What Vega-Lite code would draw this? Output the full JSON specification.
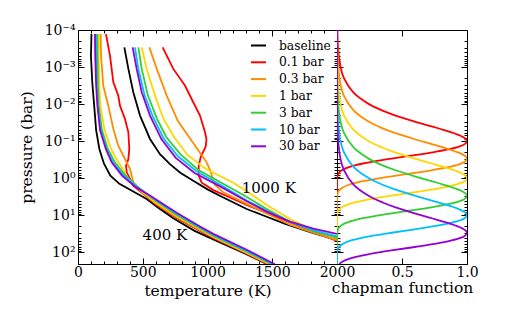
{
"$schema":"https://vega.github.io/schema/vega-lite/v6.json",
"padding":{"left":18,"top":22,"right":5,"bottom":5},
"background":"white",
"config":{"font":"DejaVu Serif","view":{"stroke":"black","strokeWidth":1},
 "axis":{"domain":false,"grid":false,"tickColor":"black","labelColor":"black","titleColor":"black","labelFontSize":14,"titleFontSize":15.5,"titleFontWeight":"normal","labelFlush":false,"labelOverlap":false,"tickWidth":1},
 "legend":{"labelFontSize":12.3,"labelColor":"black"}},
"datasets":{
"temp":[
{"s":"baseline","g":"lo","T":104,"p":0.000129},{"s":"baseline","g":"lo","T":100,"p":0.000501},{"s":"baseline","g":"lo","T":110,"p":0.00251},{"s":"baseline","g":"lo","T":125,"p":0.011},{"s":"baseline","g":"lo","T":140,"p":0.0501},{"s":"baseline","g":"lo","T":165,"p":0.162},{"s":"baseline","g":"lo","T":200,"p":0.398},{"s":"baseline","g":"lo","T":250,"p":0.851},{"s":"baseline","g":"lo","T":320,"p":1.413},{"s":"baseline","g":"lo","T":427,"p":2.291},{"s":"baseline","g":"lo","T":530,"p":3.631},{"s":"baseline","g":"lo","T":633,"p":6.761},{"s":"baseline","g":"lo","T":736,"p":12.02},{"s":"baseline","g":"lo","T":900,"p":26.3},{"s":"baseline","g":"lo","T":1045,"p":44.67},{"s":"baseline","g":"lo","T":1300,"p":112.2},{"s":"baseline","g":"lo","T":1480,"p":223.9},
{"s":"baseline","g":"hi","T":358,"p":0.000295},{"s":"baseline","g":"hi","T":389,"p":0.001122},{"s":"baseline","g":"hi","T":427,"p":0.00479},{"s":"baseline","g":"hi","T":479,"p":0.0204},{"s":"baseline","g":"hi","T":556,"p":0.0871},{"s":"baseline","g":"hi","T":633,"p":0.224},{"s":"baseline","g":"hi","T":710,"p":0.417},{"s":"baseline","g":"hi","T":790,"p":0.708},{"s":"baseline","g":"hi","T":890,"p":1.175},{"s":"baseline","g":"hi","T":1000,"p":1.995},{"s":"baseline","g":"hi","T":1122,"p":3.311},{"s":"baseline","g":"hi","T":1303,"p":6.761},{"s":"baseline","g":"hi","T":1457,"p":10.96},{"s":"baseline","g":"hi","T":1600,"p":16.98},{"s":"baseline","g":"hi","T":1800,"p":28.84},{"s":"baseline","g":"hi","T":2000,"p":46.77},
{"s":"0.1 bar","g":"lo","T":216,"p":0.000129},{"s":"0.1 bar","g":"lo","T":247,"p":0.00049},{"s":"0.1 bar","g":"lo","T":273,"p":0.00257},{"s":"0.1 bar","g":"lo","T":311,"p":0.00589},{"s":"0.1 bar","g":"lo","T":324,"p":0.011},{"s":"0.1 bar","g":"lo","T":363,"p":0.0251},{"s":"0.1 bar","g":"lo","T":389,"p":0.0575},{"s":"0.1 bar","g":"lo","T":396,"p":0.162},{"s":"0.1 bar","g":"lo","T":389,"p":0.302},{"s":"0.1 bar","g":"lo","T":371,"p":0.457},{"s":"0.1 bar","g":"lo","T":376,"p":0.692},{"s":"0.1 bar","g":"lo","T":402,"p":1.047},{"s":"0.1 bar","g":"lo","T":427,"p":1.585},{"s":"0.1 bar","g":"lo","T":504,"p":2.63},{"s":"0.1 bar","g":"lo","T":595,"p":4.9},{"s":"0.1 bar","g":"lo","T":755,"p":11.5},{"s":"0.1 bar","g":"lo","T":935,"p":25.5},{"s":"0.1 bar","g":"lo","T":1040,"p":40.5},{"s":"0.1 bar","g":"lo","T":1295,"p":106},{"s":"0.1 bar","g":"lo","T":1470,"p":214},
{"s":"0.1 bar","g":"hi","T":654,"p":0.000295},{"s":"0.1 bar","g":"hi","T":736,"p":0.001122},{"s":"0.1 bar","g":"hi","T":826,"p":0.00316},{"s":"0.1 bar","g":"hi","T":890,"p":0.00891},{"s":"0.1 bar","g":"hi","T":942,"p":0.0204},{"s":"0.1 bar","g":"hi","T":981,"p":0.0575},{"s":"0.1 bar","g":"hi","T":992,"p":0.0891},{"s":"0.1 bar","g":"hi","T":986,"p":0.141},{"s":"0.1 bar","g":"hi","T":950,"p":0.251},{"s":"0.1 bar","g":"hi","T":932,"p":0.457},{"s":"0.1 bar","g":"hi","T":932,"p":0.851},{"s":"0.1 bar","g":"hi","T":955,"p":1.318},{"s":"0.1 bar","g":"hi","T":1045,"p":2.089},{"s":"0.1 bar","g":"hi","T":1148,"p":3.02},{"s":"0.1 bar","g":"hi","T":1303,"p":5.248},{"s":"0.1 bar","g":"hi","T":1534,"p":11.22},{"s":"0.1 bar","g":"hi","T":1792,"p":25.12},{"s":"0.1 bar","g":"hi","T":2000,"p":48.98},
{"s":"0.3 bar","g":"lo","T":175,"p":0.000129},{"s":"0.3 bar","g":"lo","T":178,"p":0.000501},{"s":"0.3 bar","g":"lo","T":195,"p":0.00316},{"s":"0.3 bar","g":"lo","T":234,"p":0.011},{"s":"0.3 bar","g":"lo","T":273,"p":0.0468},{"s":"0.3 bar","g":"lo","T":311,"p":0.132},{"s":"0.3 bar","g":"lo","T":363,"p":0.302},{"s":"0.3 bar","g":"lo","T":402,"p":0.562},{"s":"0.3 bar","g":"lo","T":415,"p":0.851},{"s":"0.3 bar","g":"lo","T":427,"p":1.288},{"s":"0.3 bar","g":"lo","T":500,"p":2.512},{"s":"0.3 bar","g":"lo","T":600,"p":4.786},{"s":"0.3 bar","g":"lo","T":762,"p":11.22},{"s":"0.3 bar","g":"lo","T":942,"p":25.12},{"s":"0.3 bar","g":"lo","T":1045,"p":39.81},{"s":"0.3 bar","g":"lo","T":1303,"p":104.7},{"s":"0.3 bar","g":"lo","T":1480,"p":213.8},
{"s":"0.3 bar","g":"hi","T":551,"p":0.000295},{"s":"0.3 bar","g":"hi","T":608,"p":0.001122},{"s":"0.3 bar","g":"hi","T":685,"p":0.00589},{"s":"0.3 bar","g":"hi","T":770,"p":0.0282},{"s":"0.3 bar","g":"hi","T":860,"p":0.0794},{"s":"0.3 bar","g":"hi","T":930,"p":0.178},{"s":"0.3 bar","g":"hi","T":990,"p":0.355},{"s":"0.3 bar","g":"hi","T":1025,"p":0.661},{"s":"0.3 bar","g":"hi","T":1042,"p":1.122},{"s":"0.3 bar","g":"hi","T":1058,"p":1.514},{"s":"0.3 bar","g":"hi","T":1122,"p":2.399},{"s":"0.3 bar","g":"hi","T":1303,"p":4.898},{"s":"0.3 bar","g":"hi","T":1457,"p":8.913},{"s":"0.3 bar","g":"hi","T":1637,"p":17.78},{"s":"0.3 bar","g":"hi","T":1817,"p":29.51},{"s":"0.3 bar","g":"hi","T":2000,"p":46.77},
{"s":"1 bar","g":"lo","T":162,"p":0.000129},{"s":"1 bar","g":"lo","T":160,"p":0.000501},{"s":"1 bar","g":"lo","T":165,"p":0.00316},{"s":"1 bar","g":"lo","T":172,"p":0.011},{"s":"1 bar","g":"lo","T":205,"p":0.0501},{"s":"1 bar","g":"lo","T":255,"p":0.162},{"s":"1 bar","g":"lo","T":300,"p":0.316},{"s":"1 bar","g":"lo","T":345,"p":0.562},{"s":"1 bar","g":"lo","T":390,"p":1.047},{"s":"1 bar","g":"lo","T":470,"p":1.905},{"s":"1 bar","g":"lo","T":580,"p":3.981},{"s":"1 bar","g":"lo","T":762,"p":10.47},{"s":"1 bar","g":"lo","T":942,"p":23.44},{"s":"1 bar","g":"lo","T":1045,"p":37.15},{"s":"1 bar","g":"lo","T":1303,"p":100},{"s":"1 bar","g":"lo","T":1490,"p":213.8},
{"s":"1 bar","g":"hi","T":492,"p":0.000295},{"s":"1 bar","g":"hi","T":530,"p":0.001122},{"s":"1 bar","g":"hi","T":595,"p":0.00589},{"s":"1 bar","g":"hi","T":660,"p":0.0251},{"s":"1 bar","g":"hi","T":745,"p":0.0794},{"s":"1 bar","g":"hi","T":840,"p":0.224},{"s":"1 bar","g":"hi","T":965,"p":0.501},{"s":"1 bar","g":"hi","T":1045,"p":0.708},{"s":"1 bar","g":"hi","T":1200,"p":1.318},{"s":"1 bar","g":"hi","T":1303,"p":2.239},{"s":"1 bar","g":"hi","T":1457,"p":5.248},{"s":"1 bar","g":"hi","T":1637,"p":12.59},{"s":"1 bar","g":"hi","T":1817,"p":25.12},{"s":"1 bar","g":"hi","T":2000,"p":41.69},
{"s":"3 bar","g":"lo","T":149,"p":0.000129},{"s":"3 bar","g":"lo","T":150,"p":0.000501},{"s":"3 bar","g":"lo","T":154,"p":0.00316},{"s":"3 bar","g":"lo","T":160,"p":0.011},{"s":"3 bar","g":"lo","T":185,"p":0.0501},{"s":"3 bar","g":"lo","T":230,"p":0.162},{"s":"3 bar","g":"lo","T":285,"p":0.372},{"s":"3 bar","g":"lo","T":355,"p":0.759},{"s":"3 bar","g":"lo","T":450,"p":1.585},{"s":"3 bar","g":"lo","T":575,"p":3.548},{"s":"3 bar","g":"lo","T":762,"p":9.772},{"s":"3 bar","g":"lo","T":942,"p":22.39},{"s":"3 bar","g":"lo","T":1045,"p":35.48},{"s":"3 bar","g":"lo","T":1303,"p":95.5},{"s":"3 bar","g":"lo","T":1495,"p":208.9},
{"s":"3 bar","g":"hi","T":466,"p":0.000295},{"s":"3 bar","g":"hi","T":492,"p":0.001122},{"s":"3 bar","g":"hi","T":540,"p":0.00589},{"s":"3 bar","g":"hi","T":610,"p":0.0251},{"s":"3 bar","g":"hi","T":680,"p":0.0759},{"s":"3 bar","g":"hi","T":790,"p":0.224},{"s":"3 bar","g":"hi","T":930,"p":0.603},{"s":"3 bar","g":"hi","T":1100,"p":1.288},{"s":"3 bar","g":"hi","T":1277,"p":2.818},{"s":"3 bar","g":"hi","T":1457,"p":6.761},{"s":"3 bar","g":"hi","T":1637,"p":14.79},{"s":"3 bar","g":"hi","T":1817,"p":26.3},{"s":"3 bar","g":"hi","T":2000,"p":39.81},
{"s":"10 bar","g":"lo","T":139,"p":0.000129},{"s":"10 bar","g":"lo","T":140,"p":0.000501},{"s":"10 bar","g":"lo","T":145,"p":0.00316},{"s":"10 bar","g":"lo","T":153,"p":0.011},{"s":"10 bar","g":"lo","T":175,"p":0.0501},{"s":"10 bar","g":"lo","T":220,"p":0.162},{"s":"10 bar","g":"lo","T":270,"p":0.372},{"s":"10 bar","g":"lo","T":345,"p":0.794},{"s":"10 bar","g":"lo","T":445,"p":1.585},{"s":"10 bar","g":"lo","T":570,"p":3.311},{"s":"10 bar","g":"lo","T":762,"p":9.12},{"s":"10 bar","g":"lo","T":942,"p":21.38},{"s":"10 bar","g":"lo","T":1045,"p":33.88},{"s":"10 bar","g":"lo","T":1303,"p":91.2},{"s":"10 bar","g":"lo","T":1505,"p":208.9},
{"s":"10 bar","g":"hi","T":440,"p":0.000295},{"s":"10 bar","g":"hi","T":466,"p":0.001122},{"s":"10 bar","g":"hi","T":515,"p":0.00589},{"s":"10 bar","g":"hi","T":575,"p":0.0204},{"s":"10 bar","g":"hi","T":660,"p":0.0832},{"s":"10 bar","g":"hi","T":770,"p":0.251},{"s":"10 bar","g":"hi","T":915,"p":0.646},{"s":"10 bar","g":"hi","T":1097,"p":1.479},{"s":"10 bar","g":"hi","T":1303,"p":3.981},{"s":"10 bar","g":"hi","T":1457,"p":7.586},{"s":"10 bar","g":"hi","T":1637,"p":15.14},{"s":"10 bar","g":"hi","T":1817,"p":25.12},{"s":"10 bar","g":"hi","T":2000,"p":37.15},
{"s":"30 bar","g":"lo","T":131,"p":0.000129},{"s":"30 bar","g":"lo","T":133,"p":0.000501},{"s":"30 bar","g":"lo","T":140,"p":0.00316},{"s":"30 bar","g":"lo","T":150,"p":0.011},{"s":"30 bar","g":"lo","T":170,"p":0.0501},{"s":"30 bar","g":"lo","T":215,"p":0.162},{"s":"30 bar","g":"lo","T":260,"p":0.372},{"s":"30 bar","g":"lo","T":340,"p":0.851},{"s":"30 bar","g":"lo","T":440,"p":1.66},{"s":"30 bar","g":"lo","T":570,"p":3.162},{"s":"30 bar","g":"lo","T":762,"p":8.511},{"s":"30 bar","g":"lo","T":942,"p":19.95},{"s":"30 bar","g":"lo","T":1045,"p":31.62},{"s":"30 bar","g":"lo","T":1303,"p":85.11},{"s":"30 bar","g":"lo","T":1520,"p":208.9},
{"s":"30 bar","g":"hi","T":422,"p":0.000295},{"s":"30 bar","g":"hi","T":453,"p":0.001122},{"s":"30 bar","g":"hi","T":492,"p":0.00479},{"s":"30 bar","g":"hi","T":556,"p":0.0204},{"s":"30 bar","g":"hi","T":645,"p":0.0891},{"s":"30 bar","g":"hi","T":755,"p":0.282},{"s":"30 bar","g":"hi","T":900,"p":0.724},{"s":"30 bar","g":"hi","T":1097,"p":1.66},{"s":"30 bar","g":"hi","T":1303,"p":4.169},{"s":"30 bar","g":"hi","T":1457,"p":7.943},{"s":"30 bar","g":"hi","T":1637,"p":14.79},{"s":"30 bar","g":"hi","T":1817,"p":22.91},{"s":"30 bar","g":"hi","T":2000,"p":31.62}
],
"chap":[
{"s":"baseline","p":0.0001,"f":0},{"s":"baseline","p":206,"f":0},
{"s":"0.1 bar","p":0.0001,"f":0.00272},{"s":"0.1 bar","p":0.0003,"f":0.00813},{"s":"0.1 bar","p":0.001,"f":0.0269},{"s":"0.1 bar","p":0.002,"f":0.0533},{"s":"0.1 bar","p":0.005,"f":0.129},{"s":"0.1 bar","p":0.01,"f":0.246},{"s":"0.1 bar","p":0.015,"f":0.351},{"s":"0.1 bar","p":0.02,"f":0.445},{"s":"0.1 bar","p":0.03,"f":0.604},{"s":"0.1 bar","p":0.04,"f":0.729},{"s":"0.1 bar","p":0.05,"f":0.824},{"s":"0.1 bar","p":0.07,"f":0.945},{"s":"0.1 bar","p":0.085,"f":0.988},{"s":"0.1 bar","p":0.1,"f":1},{"s":"0.1 bar","p":0.12,"f":0.982},{"s":"0.1 bar","p":0.14,"f":0.938},{"s":"0.1 bar","p":0.17,"f":0.844},{"s":"0.1 bar","p":0.2,"f":0.736},{"s":"0.1 bar","p":0.25,"f":0.558},{"s":"0.1 bar","p":0.3,"f":0.406},{"s":"0.1 bar","p":0.35,"f":0.287},{"s":"0.1 bar","p":0.4,"f":0.199},{"s":"0.1 bar","p":0.45,"f":0.136},{"s":"0.1 bar","p":0.5,"f":0.0916},{"s":"0.1 bar","p":0.6,"f":0.0404},{"s":"0.1 bar","p":0.7,"f":0.0174},{"s":"0.1 bar","p":0.8,"f":0.0073},{"s":"0.1 bar","p":1,"f":0.0012},{"s":"0.1 bar","p":1.5,"f":0},{"s":"0.1 bar","p":206,"f":0},
{"s":"0.3 bar","p":0.0001,"f":0.0009},{"s":"0.3 bar","p":0.0003,"f":0.00272},{"s":"0.3 bar","p":0.0009,"f":0.00813},{"s":"0.3 bar","p":0.003,"f":0.0269},{"s":"0.3 bar","p":0.006,"f":0.0533},{"s":"0.3 bar","p":0.015,"f":0.129},{"s":"0.3 bar","p":0.03,"f":0.246},{"s":"0.3 bar","p":0.045,"f":0.351},{"s":"0.3 bar","p":0.06,"f":0.445},{"s":"0.3 bar","p":0.09,"f":0.604},{"s":"0.3 bar","p":0.12,"f":0.729},{"s":"0.3 bar","p":0.15,"f":0.824},{"s":"0.3 bar","p":0.21,"f":0.945},{"s":"0.3 bar","p":0.255,"f":0.988},{"s":"0.3 bar","p":0.3,"f":1},{"s":"0.3 bar","p":0.36,"f":0.982},{"s":"0.3 bar","p":0.42,"f":0.938},{"s":"0.3 bar","p":0.51,"f":0.844},{"s":"0.3 bar","p":0.6,"f":0.736},{"s":"0.3 bar","p":0.75,"f":0.558},{"s":"0.3 bar","p":0.9,"f":0.406},{"s":"0.3 bar","p":1.05,"f":0.287},{"s":"0.3 bar","p":1.2,"f":0.199},{"s":"0.3 bar","p":1.35,"f":0.136},{"s":"0.3 bar","p":1.5,"f":0.0916},{"s":"0.3 bar","p":1.8,"f":0.0404},{"s":"0.3 bar","p":2.1,"f":0.0174},{"s":"0.3 bar","p":2.4,"f":0.0073},{"s":"0.3 bar","p":3,"f":0.0012},{"s":"0.3 bar","p":4.5,"f":0},{"s":"0.3 bar","p":206,"f":0},
{"s":"1 bar","p":0.0001,"f":0.00027},{"s":"1 bar","p":0.001,"f":0.00272},{"s":"1 bar","p":0.003,"f":0.00813},{"s":"1 bar","p":0.01,"f":0.0269},{"s":"1 bar","p":0.02,"f":0.0533},{"s":"1 bar","p":0.05,"f":0.129},{"s":"1 bar","p":0.1,"f":0.246},{"s":"1 bar","p":0.15,"f":0.351},{"s":"1 bar","p":0.2,"f":0.445},{"s":"1 bar","p":0.3,"f":0.604},{"s":"1 bar","p":0.4,"f":0.729},{"s":"1 bar","p":0.5,"f":0.824},{"s":"1 bar","p":0.7,"f":0.945},{"s":"1 bar","p":0.85,"f":0.988},{"s":"1 bar","p":1,"f":1},{"s":"1 bar","p":1.2,"f":0.982},{"s":"1 bar","p":1.4,"f":0.938},{"s":"1 bar","p":1.7,"f":0.844},{"s":"1 bar","p":2,"f":0.736},{"s":"1 bar","p":2.5,"f":0.558},{"s":"1 bar","p":3,"f":0.406},{"s":"1 bar","p":3.5,"f":0.287},{"s":"1 bar","p":4,"f":0.199},{"s":"1 bar","p":4.5,"f":0.136},{"s":"1 bar","p":5,"f":0.0916},{"s":"1 bar","p":6,"f":0.0404},{"s":"1 bar","p":7,"f":0.0174},{"s":"1 bar","p":8,"f":0.0073},{"s":"1 bar","p":10,"f":0.0012},{"s":"1 bar","p":15,"f":0},{"s":"1 bar","p":206,"f":0},
{"s":"3 bar","p":0.0001,"f":0.00009},{"s":"3 bar","p":0.003,"f":0.00272},{"s":"3 bar","p":0.009,"f":0.00813},{"s":"3 bar","p":0.03,"f":0.0269},{"s":"3 bar","p":0.06,"f":0.0533},{"s":"3 bar","p":0.15,"f":0.129},{"s":"3 bar","p":0.3,"f":0.246},{"s":"3 bar","p":0.45,"f":0.351},{"s":"3 bar","p":0.6,"f":0.445},{"s":"3 bar","p":0.9,"f":0.604},{"s":"3 bar","p":1.2,"f":0.729},{"s":"3 bar","p":1.5,"f":0.824},{"s":"3 bar","p":2.1,"f":0.945},{"s":"3 bar","p":2.55,"f":0.988},{"s":"3 bar","p":3,"f":1},{"s":"3 bar","p":3.6,"f":0.982},{"s":"3 bar","p":4.2,"f":0.938},{"s":"3 bar","p":5.1,"f":0.844},{"s":"3 bar","p":6,"f":0.736},{"s":"3 bar","p":7.5,"f":0.558},{"s":"3 bar","p":9,"f":0.406},{"s":"3 bar","p":10.5,"f":0.287},{"s":"3 bar","p":12,"f":0.199},{"s":"3 bar","p":13.5,"f":0.136},{"s":"3 bar","p":15,"f":0.0916},{"s":"3 bar","p":18,"f":0.0404},{"s":"3 bar","p":21,"f":0.0174},{"s":"3 bar","p":24,"f":0.0073},{"s":"3 bar","p":30,"f":0.0012},{"s":"3 bar","p":45,"f":0},{"s":"3 bar","p":206,"f":0},
{"s":"10 bar","p":0.0001,"f":0.00003},{"s":"10 bar","p":0.01,"f":0.00272},{"s":"10 bar","p":0.03,"f":0.00813},{"s":"10 bar","p":0.1,"f":0.0269},{"s":"10 bar","p":0.2,"f":0.0533},{"s":"10 bar","p":0.5,"f":0.129},{"s":"10 bar","p":1,"f":0.246},{"s":"10 bar","p":1.5,"f":0.351},{"s":"10 bar","p":2,"f":0.445},{"s":"10 bar","p":3,"f":0.604},{"s":"10 bar","p":4,"f":0.729},{"s":"10 bar","p":5,"f":0.824},{"s":"10 bar","p":7,"f":0.945},{"s":"10 bar","p":8.5,"f":0.988},{"s":"10 bar","p":10,"f":1},{"s":"10 bar","p":12,"f":0.982},{"s":"10 bar","p":14,"f":0.938},{"s":"10 bar","p":17,"f":0.844},{"s":"10 bar","p":20,"f":0.736},{"s":"10 bar","p":25,"f":0.558},{"s":"10 bar","p":30,"f":0.406},{"s":"10 bar","p":35,"f":0.287},{"s":"10 bar","p":40,"f":0.199},{"s":"10 bar","p":45,"f":0.136},{"s":"10 bar","p":50,"f":0.0916},{"s":"10 bar","p":60,"f":0.0404},{"s":"10 bar","p":70,"f":0.0174},{"s":"10 bar","p":80,"f":0.0073},{"s":"10 bar","p":100,"f":0.0012},{"s":"10 bar","p":150,"f":0},{"s":"10 bar","p":206,"f":0},
{"s":"30 bar","p":0.0001,"f":0.00001},{"s":"30 bar","p":0.03,"f":0.00272},{"s":"30 bar","p":0.09,"f":0.00813},{"s":"30 bar","p":0.3,"f":0.0269},{"s":"30 bar","p":0.6,"f":0.0533},{"s":"30 bar","p":1.5,"f":0.129},{"s":"30 bar","p":3,"f":0.246},{"s":"30 bar","p":4.5,"f":0.351},{"s":"30 bar","p":6,"f":0.445},{"s":"30 bar","p":9,"f":0.604},{"s":"30 bar","p":12,"f":0.729},{"s":"30 bar","p":15,"f":0.824},{"s":"30 bar","p":21,"f":0.945},{"s":"30 bar","p":25.5,"f":0.988},{"s":"30 bar","p":30,"f":1},{"s":"30 bar","p":36,"f":0.982},{"s":"30 bar","p":42,"f":0.938},{"s":"30 bar","p":51,"f":0.844},{"s":"30 bar","p":60,"f":0.736},{"s":"30 bar","p":75,"f":0.558},{"s":"30 bar","p":90,"f":0.406},{"s":"30 bar","p":105,"f":0.287},{"s":"30 bar","p":120,"f":0.199},{"s":"30 bar","p":135,"f":0.136},{"s":"30 bar","p":150,"f":0.0916},{"s":"30 bar","p":180,"f":0.0404},{"s":"30 bar","p":210,"f":0.0174}
],
"labels":[{"T":499,"p":34,"text":"400 K"},{"T":1264,"p":1.8,"text":"1000 K"}]
},
"hconcat":[
{
 "width":259,"height":234,
 "layer":[
  {"data":{"name":"temp"},
   "mark":{"type":"line","strokeWidth":1.8,"clip":true},
   "encoding":{
    "x":{"field":"T","type":"quantitative","title":"temperature (K)",
     "scale":{"domain":[0,2000],"nice":false,"zero":false},
     "axis":{"orient":"bottom","values":[0,100,200,300,400,500,600,700,800,900,1000,1100,1200,1300,1400,1500,1600,1700,1800,1900,2000],"format":"d",
      "labelExpr":"datum.value % 500 === 0 ? datum.label : ''",
      "tickSize":{"condition":{"test":"datum.value % 500 === 0","value":-6},"value":-3},
      "labelPadding":7,"titlePadding":1}},
    "y":{"field":"p","type":"quantitative","title":"pressure (bar)",
     "scale":{"type":"log","domain":[0.0001,206],"reverse":true,"nice":false},
     "axis":{"orient":"left","values":[0.0001,0.0002,0.0003,0.0004,0.0005,0.0006,0.0007,0.0008,0.0009,0.001,0.002,0.003,0.004,0.005,0.006,0.007,0.008,0.009,0.01,0.02,0.03,0.04,0.05,0.06,0.07,0.08,0.09,0.1,0.2,0.3,0.4,0.5,0.6,0.7,0.8,0.9,1,2,3,4,5,6,7,8,9,10,20,30,40,50,60,70,80,90,100,200],
      "labelExpr":"datum.value == 0.0001 ? '10⁻⁴' : datum.value == 0.001 ? '10⁻³' : datum.value == 0.01 ? '10⁻²' : datum.value == 0.1 ? '10⁻¹' : datum.value == 1 ? '10⁰' : datum.value == 10 ? '10¹' : datum.value == 100 ? '10²' : ''",
      "tickSize":{"condition":{"test":"indexof([0.0001,0.001,0.01,0.1,1,10,100], datum.value) >= 0","value":-6},"value":-3},
      "labelPadding":9,"titlePadding":10}},
    "color":{"field":"s","type":"nominal",
     "scale":{"domain":["baseline","0.1 bar","0.3 bar","1 bar","3 bar","10 bar","30 bar"],"range":["#000000","#ff0000","#ff8c00","#ffd700","#32cd32","#00bfff","#9400d3"]},
     "legend":{"orient":"none","legendX":172,"legendY":7,"title":null,"symbolType":"stroke","symbolSize":225,"symbolStrokeWidth":2,"rowPadding":1.8,"labelOffset":12,"padding":0}},
    "detail":{"field":"g"},
    "order":{"field":"p","type":"quantitative"}
   }},
  {"data":{"name":"labels"},
   "mark":{"type":"text","align":"left","baseline":"middle","fontSize":15,"color":"black"},
   "encoding":{"x":{"field":"T","type":"quantitative","axis":null},"y":{"field":"p","type":"quantitative","axis":null},"text":{"field":"text"}}},
  {"data":{"name":"temp"},
   "mark":{"type":"point","opacity":0},
   "encoding":{
    "x":{"field":"T","type":"quantitative","axis":{"orient":"top","labels":false,"title":null,"values":[0,100,200,300,400,500,600,700,800,900,1000,1100,1200,1300,1400,1500,1600,1700,1800,1900,2000],
      "tickSize":{"condition":{"test":"datum.value % 500 === 0","value":-6},"value":-3}}},
    "y":{"field":"p","type":"quantitative","axis":{"orient":"right","labels":false,"title":null,"values":[0.0001,0.0002,0.0003,0.0004,0.0005,0.0006,0.0007,0.0008,0.0009,0.001,0.002,0.003,0.004,0.005,0.006,0.007,0.008,0.009,0.01,0.02,0.03,0.04,0.05,0.06,0.07,0.08,0.09,0.1,0.2,0.3,0.4,0.5,0.6,0.7,0.8,0.9,1,2,3,4,5,6,7,8,9,10,20,30,40,50,60,70,80,90,100,200],
      "tickSize":{"condition":{"test":"indexof([0.0001,0.001,0.01,0.1,1,10,100], datum.value) >= 0","value":-6},"value":-3}}}
   }}
 ],
 "resolve":{"axis":{"x":"independent","y":"independent"}}
},
{
 "width":130,"height":234,
 "layer":[
  {"data":{"name":"chap"},
   "mark":{"type":"line","strokeWidth":1.8,"clip":true,"interpolate":"catmull-rom"},
   "encoding":{
    "x":{"field":"f","type":"quantitative","title":"chapman function",
     "scale":{"domain":[0,1],"nice":false,"zero":false},
     "axis":{"orient":"bottom","values":[0,0.5,1],"labelExpr":"datum.value == 0 ? '' : format(datum.value, '.1f')","tickSize":-6,"labelPadding":7,"titlePadding":1}},
    "y":{"field":"p","type":"quantitative",
     "scale":{"type":"log","domain":[0.0001,206],"reverse":true,"nice":false},
     "axis":{"orient":"left","labels":false,"title":null,"values":[0.0001,0.0002,0.0003,0.0004,0.0005,0.0006,0.0007,0.0008,0.0009,0.001,0.002,0.003,0.004,0.005,0.006,0.007,0.008,0.009,0.01,0.02,0.03,0.04,0.05,0.06,0.07,0.08,0.09,0.1,0.2,0.3,0.4,0.5,0.6,0.7,0.8,0.9,1,2,3,4,5,6,7,8,9,10,20,30,40,50,60,70,80,90,100,200],
      "tickSize":{"condition":{"test":"indexof([0.0001,0.001,0.01,0.1,1,10,100], datum.value) >= 0","value":-6},"value":-3}}},
    "color":{"field":"s","type":"nominal",
     "scale":{"domain":["baseline","0.1 bar","0.3 bar","1 bar","3 bar","10 bar","30 bar"],"range":["#000000","#ff0000","#ff8c00","#ffd700","#32cd32","#00bfff","#9400d3"]},
     "legend":null},
    "order":{"field":"p","type":"quantitative"}
   }},
  {"data":{"name":"chap"},
   "mark":{"type":"point","opacity":0},
   "encoding":{
    "x":{"field":"f","type":"quantitative","axis":{"orient":"top","labels":false,"title":null,"values":[0,0.5,1],"tickSize":-6}},
    "y":{"field":"p","type":"quantitative","axis":{"orient":"right","labels":false,"title":null,"values":[0.0001,0.0002,0.0003,0.0004,0.0005,0.0006,0.0007,0.0008,0.0009,0.001,0.002,0.003,0.004,0.005,0.006,0.007,0.008,0.009,0.01,0.02,0.03,0.04,0.05,0.06,0.07,0.08,0.09,0.1,0.2,0.3,0.4,0.5,0.6,0.7,0.8,0.9,1,2,3,4,5,6,7,8,9,10,20,30,40,50,60,70,80,90,100,200],
      "tickSize":{"condition":{"test":"indexof([0.0001,0.001,0.01,0.1,1,10,100], datum.value) >= 0","value":-6},"value":-3}}}
   }}
 ],
 "resolve":{"axis":{"x":"independent","y":"independent"}}
}
],
"spacing":0,
"bounds":"flush",
"resolve":{"legend":{"color":"independent"}}
}
